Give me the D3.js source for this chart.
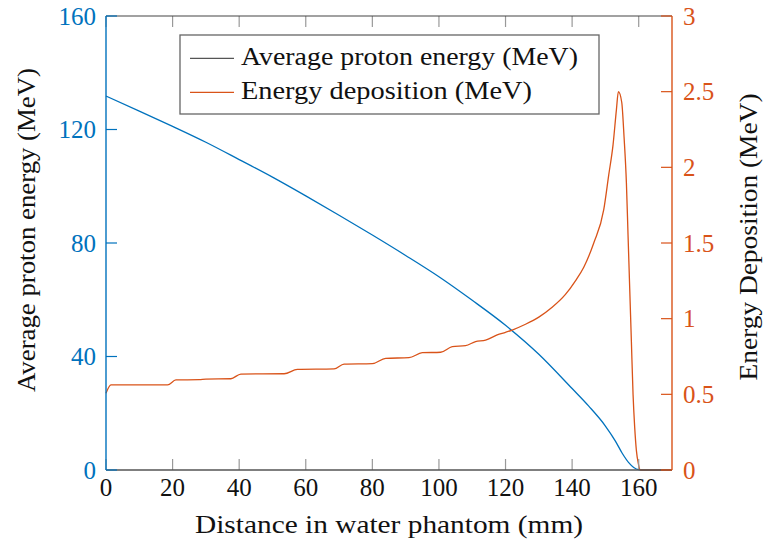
<!DOCTYPE html>
<html><head><meta charset="utf-8">
<script src="https://cdn.jsdelivr.net/npm/d3@7"></script>
</head>
<body style="margin:0"><svg id="chart" width="764" height="543"></svg>
<script>
// ---- data ----
const energyX = [0,10,20,30,40,50,60,70,80,90,100,110,120,130,140,145,150,153,155,157,158.5,160,161,170];
const energyY = [131.8,126.5,121.1,115.5,109.4,103.2,96.6,89.8,82.8,75.6,68.1,59.8,51.0,40.8,28.7,22.5,15.5,10.2,6.0,2.6,0.9,0.1,0,0];
const depoX = [0,1.5,18.5,21,28,30,37.5,40.5,53.5,57.5,68.5,71.5,80,84,91,95,100.5,104,108,111,114,117.5,120,122,126,130,134,138,141,143.5,146.5,149.5,151,152.3,153.3,153.9,154.9,155.6,156.3,156.8,157.3,157.8,158.3,158.8,159.3,159.9,160.5,170];
const depoY = [0.507,0.562,0.562,0.595,0.597,0.601,0.603,0.634,0.636,0.665,0.668,0.700,0.703,0.738,0.742,0.775,0.778,0.815,0.822,0.848,0.858,0.893,0.910,0.925,0.963,1.010,1.075,1.16,1.25,1.34,1.50,1.72,1.95,2.15,2.38,2.50,2.43,2.20,1.90,1.55,1.20,0.85,0.50,0.28,0.13,0.04,0,0];
const xTicks = [0,20,40,60,80,100,120,140,160];
const leftTicks = [0,40,80,120,160];
const rightTicks = [0,0.5,1,1.5,2,2.5,3];
const legendLabels = ["Average proton energy (MeV)","Energy deposition (MeV)"];

const F = "Liberation Serif";
const BLUE = "#0072BD", ORANGE = "#D95319";
const svg = d3.select("#chart");
const L = 106, R = 672, T = 16, B = 470;
const x = d3.scaleLinear().domain([0,170]).range([L,R]);
const yL = d3.scaleLinear().domain([0,160]).range([B,T]);
const yR = d3.scaleLinear().domain([0,3]).range([B,T]);
const TL = 11;

// data lines
const lineE = d3.line().x((d,i)=>x(energyX[i])).y(d=>yL(d)).curve(d3.curveMonotoneX);
svg.append("path").attr("d", lineE(energyY)).attr("fill","none").attr("stroke",BLUE).attr("stroke-width",1.3);
const lineD = d3.line().x((d,i)=>x(depoX[i])).y(d=>yR(d)).curve(d3.curveMonotoneX);
svg.append("path").attr("d", lineD(depoY)).attr("fill","none").attr("stroke",ORANGE).attr("stroke-width",1.3);

// x ticks (bottom and top, inward)
xTicks.forEach(t=>{
  svg.append("line").attr("x1",x(t)).attr("x2",x(t)).attr("y1",B).attr("y2",B-TL).attr("stroke","#999").attr("stroke-width",1.2);
  svg.append("line").attr("x1",x(t)).attr("x2",x(t)).attr("y1",T).attr("y2",T+TL).attr("stroke","#999").attr("stroke-width",1.2);
  svg.append("text").attr("x",x(t)).attr("y",496).attr("font-size",25).attr("font-family",F)
    .attr("text-anchor","middle").attr("fill","#111").text(t);
});
// bottom/top spines
svg.append("line").attr("x1",L).attr("x2",R).attr("y1",B).attr("y2",B).attr("stroke","#555").attr("stroke-width",1.4);
svg.append("line").attr("x1",L).attr("x2",R).attr("y1",T).attr("y2",T).attr("stroke","#444").attr("stroke-width",1.2);

// left axis
leftTicks.forEach(t=>{
  svg.append("line").attr("x1",L).attr("x2",L+TL).attr("y1",yL(t)).attr("y2",yL(t)).attr("stroke",BLUE).attr("stroke-width",1.2);
  svg.append("text").attr("x",96).attr("y",yL(t)+8.5).attr("font-size",25).attr("font-family",F)
    .attr("text-anchor","end").attr("fill",BLUE).text(t);
});
svg.append("line").attr("x1",L).attr("x2",L).attr("y1",T).attr("y2",B).attr("stroke",BLUE).attr("stroke-width",1.4);

// right axis
rightTicks.forEach(t=>{
  svg.append("line").attr("x1",R).attr("x2",R-TL).attr("y1",yR(t)).attr("y2",yR(t)).attr("stroke",ORANGE).attr("stroke-width",1.2);
  svg.append("text").attr("x",683).attr("y",yR(t)+8.5).attr("font-size",25).attr("font-family",F)
    .attr("fill",ORANGE).text(t);
});
svg.append("line").attr("x1",R).attr("x2",R).attr("y1",T).attr("y2",B).attr("stroke",ORANGE).attr("stroke-width",1.4);

// axis titles
svg.append("text").attr("x",389).attr("y",533).attr("font-size",26).attr("font-family",F)
  .attr("text-anchor","middle").attr("fill","#111")
  .attr("textLength",388).attr("lengthAdjust","spacingAndGlyphs").text("Distance in water phantom (mm)");
svg.append("text").attr("transform","translate(35,230) rotate(-90)").attr("font-size",26).attr("font-family",F)
  .attr("text-anchor","middle").attr("fill","#111")
  .attr("textLength",324).attr("lengthAdjust","spacingAndGlyphs").text("Average proton energy (MeV)");
svg.append("text").attr("transform","translate(757,237) rotate(-90)").attr("font-size",26).attr("font-family",F)
  .attr("text-anchor","middle").attr("fill","#111")
  .attr("textLength",287).attr("lengthAdjust","spacingAndGlyphs").text("Energy Deposition (MeV)");

// legend
svg.append("rect").attr("x",180).attr("y",35).attr("width",419).attr("height",79).attr("fill","#fff").attr("stroke","#666").attr("stroke-width",1.3);
const lgColors = ["#555", ORANGE];
const lgWidths = [337, 291];
legendLabels.forEach((lab,i)=>{
  const yy = 58.3 + i*34;
  svg.append("line").attr("x1",190).attr("x2",234).attr("y1",yy).attr("y2",yy).attr("stroke",lgColors[i]).attr("stroke-width",1.3);
  svg.append("text").attr("x",241).attr("y",yy+6.3).attr("font-size",26).attr("font-family",F).attr("fill","#111")
    .attr("textLength",lgWidths[i]).attr("lengthAdjust","spacingAndGlyphs").text(lab);
});
</script></body></html>
